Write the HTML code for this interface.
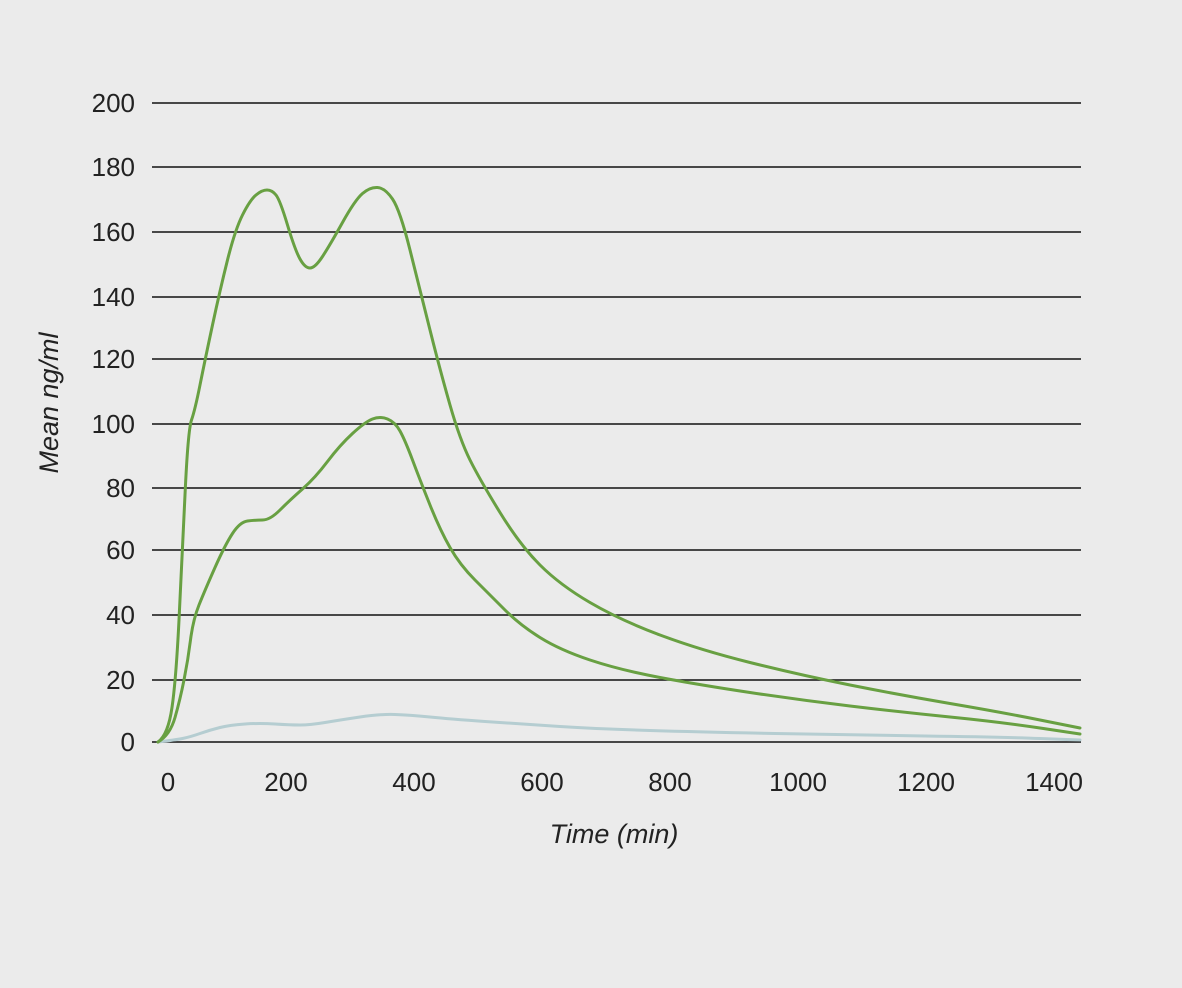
<!DOCTYPE html>
<html><head><meta charset="utf-8"><style>
html,body{margin:0;padding:0;background:#ebebeb;}
svg{display:block;font-family:"Liberation Sans Narrow","Liberation Sans",sans-serif;}
</style></head><body>
<svg width="1182" height="988" viewBox="0 0 1182 988" xmlns="http://www.w3.org/2000/svg">
<rect width="1182" height="988" fill="#ebebeb"/>
<g stroke="#111" stroke-width="1.5">
<line x1="152" y1="103" x2="1081" y2="103"/>
<line x1="152" y1="167" x2="1081" y2="167"/>
<line x1="152" y1="232" x2="1081" y2="232"/>
<line x1="152" y1="297" x2="1081" y2="297"/>
<line x1="152" y1="359" x2="1081" y2="359"/>
<line x1="152" y1="424" x2="1081" y2="424"/>
<line x1="152" y1="488" x2="1081" y2="488"/>
<line x1="152" y1="550" x2="1081" y2="550"/>
<line x1="152" y1="615" x2="1081" y2="615"/>
<line x1="152" y1="680" x2="1081" y2="680"/>
<line x1="152" y1="742" x2="1081" y2="742"/>
</g>
<g font-size="26" fill="#222" text-anchor="end">
<text x="135" y="112">200</text><text x="135" y="176">180</text><text x="135" y="241">160</text>
<text x="135" y="306">140</text><text x="135" y="368">120</text><text x="135" y="433">100</text>
<text x="135" y="497">80</text><text x="135" y="559">60</text><text x="135" y="624">40</text>
<text x="135" y="689">20</text><text x="135" y="751">0</text>
</g>
<g font-size="26" fill="#222" text-anchor="middle">
<text x="168" y="791">0</text><text x="286" y="791">200</text><text x="414" y="791">400</text>
<text x="542" y="791">600</text><text x="670" y="791">800</text><text x="798" y="791">1000</text>
<text x="926" y="791">1200</text><text x="1054" y="791">1400</text>
</g>
<text x="614" y="843" font-size="27" font-style="italic" fill="#222" text-anchor="middle">Time (min)</text>
<text transform="translate(58,403) rotate(-90)" font-size="27" font-style="italic" fill="#222" text-anchor="middle">Mean ng/ml</text>
<g fill="none" stroke-linejoin="round" stroke-linecap="round" stroke-width="3">
<polyline class="s" stroke="#b5cdd1" points="158,742 175,740 190,737 210,730 230,725 260,723 290,725 310,725 340,720 380,714 410,715 450,719 520,724 600,729 700,732 850,735 1000,737 1080,740"/>
<polyline class="s" stroke="#68a042" points="158,742 168,735 176,680 182,560 188,430 195,410 205,360 220,290 235,230 250,200 262,190 272,190 280,200 295,250 305,268 315,268 330,245 355,200 370,187 385,188 400,210 420,290 440,370 460,440 480,480 520,545 560,585 620,620 700,650 800,675 900,695 1000,712 1080,728"/>
<polyline class="s" stroke="#68a042" points="158,742 170,735 180,700 188,660 193,620 205,590 225,545 240,522 255,520 270,520 290,500 315,478 340,445 365,422 380,416 395,422 405,440 420,480 440,530 460,565 490,595 520,625 560,650 620,670 700,685 800,700 900,712 1000,722 1080,734"/>
</g>
</svg>
<script>
document.querySelectorAll('polyline.s').forEach(function(pl){
  var pts=pl.getAttribute('points').trim().split(/\s+/).map(function(p){return p.split(',').map(Number);});
  var d='M'+pts[0][0]+','+pts[0][1];
  for(var i=1;i<pts.length-1;i++){
    var mx=(pts[i][0]+pts[i+1][0])/2,my=(pts[i][1]+pts[i+1][1])/2;
    d+=' Q'+pts[i][0]+','+pts[i][1]+' '+mx+','+my;
  }
  var l=pts[pts.length-1];d+=' L'+l[0]+','+l[1];
  var p=document.createElementNS('http://www.w3.org/2000/svg','path');
  p.setAttribute('d',d);p.setAttribute('stroke',pl.getAttribute('stroke'));
  pl.parentNode.replaceChild(p,pl);
});
</script>
</body></html>
